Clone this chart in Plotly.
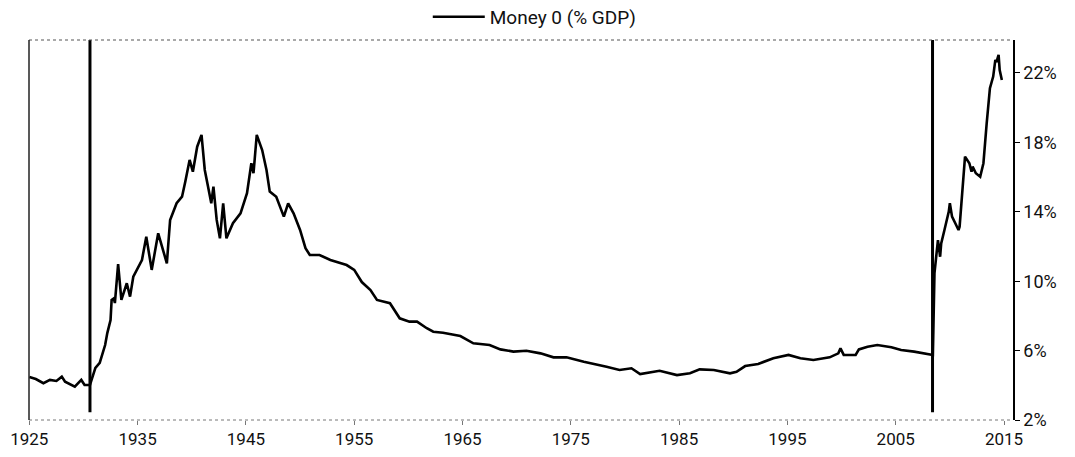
import plotly.graph_objects as go

# Money 0 as % of GDP
years = [1925.0, 1925.6, 1926.3, 1926.9, 1927.5, 1928.0, 1928.3, 1928.8, 1929.2, 1929.8,
         1930.1, 1930.6, 1931.1, 1931.5, 1932.0, 1932.2, 1932.5, 1932.6, 1932.8, 1932.9,
         1933.2, 1933.5, 1934.0, 1934.3, 1934.6, 1935.4, 1935.8, 1936.3, 1936.9, 1937.7,
         1938.0, 1938.6, 1939.1, 1939.4, 1939.8, 1940.1, 1940.5, 1940.9, 1941.2, 1941.5,
         1941.8, 1942.0, 1942.3, 1942.6, 1942.9, 1943.2, 1943.8, 1944.5, 1945.1, 1945.5,
         1945.7, 1946.0, 1946.5, 1946.9, 1947.2, 1947.8, 1948.5, 1948.9, 1949.4, 1950.0,
         1950.5, 1950.9, 1951.8, 1952.8, 1953.7, 1954.3, 1955.0, 1955.7, 1956.5, 1957.1,
         1958.3, 1958.9, 1959.2, 1960.1, 1960.8, 1961.7, 1962.3, 1963.2, 1964.8, 1966.0,
         1967.5, 1968.5, 1969.7, 1970.9, 1972.2, 1973.4, 1974.6, 1976.2, 1977.7, 1978.3,
         1979.5, 1980.6, 1981.4, 1983.2, 1984.8, 1986.0, 1986.9, 1988.2, 1989.7, 1990.3,
         1991.1, 1992.3, 1993.7, 1995.1, 1996.2, 1997.4, 1998.9, 1999.7, 1999.9, 2000.2,
         2001.3, 2001.6, 2002.4, 2003.3, 2004.6, 2005.5, 2006.7, 2008.43, 2008.58, 2008.8,
         2008.9, 2009.1, 2009.2, 2009.5, 2009.9, 2010.0, 2010.2, 2010.5, 2010.8, 2010.9,
         2011.2, 2011.4, 2011.8, 2012.0, 2012.1, 2012.4, 2012.8, 2013.1, 2013.4, 2013.7,
         2014.0, 2014.2, 2014.3, 2014.5, 2014.6, 2014.8]
money0_pct_gdp = [4.48, 4.36, 4.12, 4.31, 4.25, 4.50, 4.21, 4.07, 3.92, 4.31,
                  4.02, 4.02, 5.00, 5.29, 6.32, 7.01, 7.76, 8.92, 9.01, 8.74,
                  10.99, 8.92, 9.88, 9.11, 10.26, 11.22, 12.56, 10.65, 12.76, 11.03,
                  13.53, 14.49, 14.87, 15.73, 16.99, 16.31, 17.75, 18.43, 16.41, 15.45,
                  14.49, 15.45, 13.53, 12.47, 14.49, 12.47, 13.34, 13.91, 15.07, 16.80,
                  16.22, 18.43, 17.56, 16.41, 15.16, 14.87, 13.72, 14.49, 13.91, 12.95,
                  11.90, 11.51, 11.51, 11.22, 11.05, 10.93, 10.65, 9.95, 9.49, 8.92,
                  8.73, 8.15, 7.86, 7.67, 7.67, 7.29, 7.09, 7.03, 6.84, 6.42,
                  6.32, 6.07, 5.94, 5.99, 5.84, 5.61, 5.61, 5.36, 5.17, 5.07,
                  4.88, 4.98, 4.65, 4.84, 4.59, 4.69, 4.92, 4.88, 4.69, 4.78,
                  5.11, 5.23, 5.56, 5.75, 5.56, 5.46, 5.61, 5.84, 6.13, 5.75,
                  5.75, 6.07, 6.22, 6.32, 6.19, 6.03, 5.94, 5.75, 10.47, 11.99,
                  12.37, 11.41, 12.18, 12.95, 14.01, 14.49, 13.72, 13.34, 12.95, 13.14,
                  15.64, 17.18, 16.80, 16.31, 16.60, 16.22, 16.02, 16.80, 19.10, 21.12,
                  21.79, 22.75, 22.63, 23.04, 22.17, 21.60]

event_years = [1930.6, 2008.4]
event_low, event_high = 2.45, 23.9

x_ticks = [1925, 1935, 1945, 1955, 1965, 1975, 1985, 1995, 2005, 2015]
y_ticks = [2, 6, 10, 14, 18, 22]
y_tick_labels = [f"{v}%" for v in y_ticks]
x_range = [1924.97, 2015.83]
y_range = [2, 23.9]

FONT = "Roboto"

fig = go.Figure()
for ev in event_years:
    fig.add_trace(go.Scatter(x=[ev, ev], y=[event_low, event_high], mode="lines",
                             line=dict(color="#000000", width=3), showlegend=False,
                             hoverinfo="skip"))
fig.add_trace(go.Scatter(x=years, y=money0_pct_gdp, mode="lines", name="Money 0 (% GDP)",
                         line=dict(color="#000000", width=2.6)))

fig.update_layout(
    width=1075, height=457,
    margin=dict(l=29, r=62, t=40, b=37, autoexpand=False),
    paper_bgcolor="white", plot_bgcolor="white",
    font=dict(family=FONT, size=17, color="#111111"),
    showlegend=True,
    legend=dict(orientation="h", x=0.514, xanchor="center",
                y=0.963, yref="container", yanchor="middle",
                font=dict(family=FONT, size=19, color="#111111"), itemwidth=52,
                bgcolor="rgba(0,0,0,0)"),
    xaxis=dict(range=x_range, tickvals=x_ticks, ticktext=[str(t) for t in x_ticks],
               showgrid=False, zeroline=False, showline=False, automargin=False,
               ticks="outside", ticklen=4, tickcolor="#777777", tickwidth=1,
               tickfont=dict(family=FONT, size=17)),
    yaxis=dict(range=y_range, side="right", tickvals=y_ticks, ticktext=y_tick_labels,
               showgrid=False, zeroline=False, showline=True, linecolor="#000000",
               linewidth=1.5, ticks="outside", ticklen=5, tickcolor="#000000",
               automargin=False, tickfont=dict(family=FONT, size=18)),
)

# plot-area frame: dotted top and bottom, solid left
fig.add_shape(type="line", xref="paper", yref="paper", x0=0, x1=1, y0=1, y1=1,
              line=dict(color="#555555", width=1.2, dash="dot"))
fig.add_shape(type="line", xref="paper", yref="paper", x0=0, x1=1, y0=0, y1=0,
              line=dict(color="#777777", width=1, dash="dot"))
fig.add_shape(type="line", xref="paper", yref="paper", x0=0, x1=0, y0=0, y1=1,
              line=dict(color="#222222", width=1.5))

fig.write_html("out.html", config={"displayModeBar": False},
               post_script="document.body.style.margin='0px';document.body.style.overflow='hidden';")
